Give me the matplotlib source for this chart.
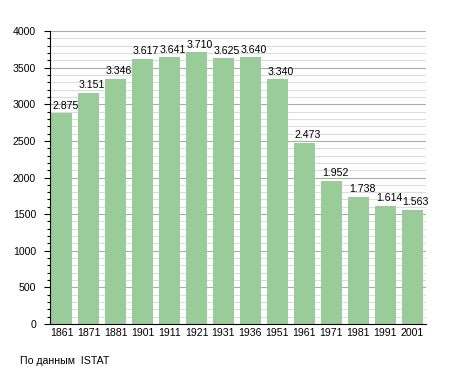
import matplotlib.pyplot as plt
import numpy as np

plt.rcParams["font.family"] = ["Liberation Sans", "DejaVu Sans"]

YEARS = ["1861", "1871", "1881", "1901", "1911", "1921", "1931",
         "1936", "1951", "1961", "1971", "1981", "1991", "2001"]
POP = [2875, 3151, 3346, 3617, 3641, 3710, 3625,
       3640, 3340, 2473, 1952, 1738, 1614, 1563]


def fmt(v):
    return f"{v:,}".replace(",", ".")


def main():
    fig = plt.figure(figsize=(4.55, 3.73), dpi=100)
    ax = fig.add_axes([50 / 455, 49 / 373, 376 / 455, 293 / 373])

    x = np.arange(len(YEARS))
    bw = 0.78
    ax.set_ylim(0, 4000)
    ax.set_xlim(-0.43, len(YEARS) - 0.49)
    # light grid every 100, darker every 500
    for y in range(100, 4001, 100):
        ax.axhline(y, color="#aaaaaa" if y % 500 == 0 else "#dddddd",
                   lw=0.8, zorder=0)
    ax.bar(x, POP, width=bw, color="#99cc99", zorder=2)
    # value labels start at the bar's left edge
    for xi, v in zip(x, POP):
        ax.annotate(fmt(v), (xi - bw / 2, v), xytext=(0.7, 3.4),
                    textcoords="offset points", ha="left", va="baseline",
                    fontsize=7.6, zorder=3)

    ax.set_xticks(x)
    ax.set_xticklabels(YEARS, fontsize=7.6)
    ax.set_yticks(range(0, 4001, 500))
    ax.set_yticks(range(0, 4001, 100), minor=True)
    ax.tick_params(axis="y", labelsize=7.6, length=4, width=0.8, pad=6)
    ax.tick_params(axis="y", which="minor", length=2.5, width=0.8)
    ax.tick_params(axis="x", length=0, pad=3)
    for s in ("top", "right"):
        ax.spines[s].set_visible(False)

    fig.text(20 / 455, 1 - 361 / 373, "По данным  ISTAT", fontsize=7.6,
             va="center")
    fig.savefig("out.png", dpi=100)


if __name__ == "__main__":
    main()
